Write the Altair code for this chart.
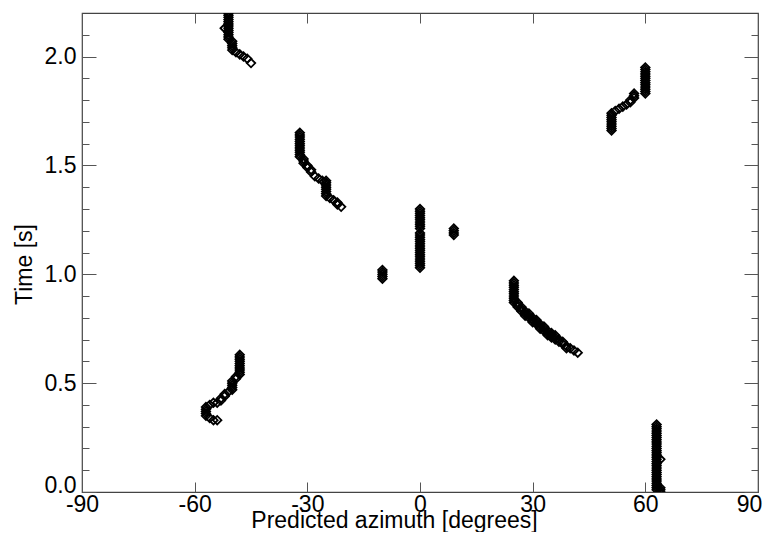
import altair as alt
import pandas as pd

# Runs of constant predicted azimuth (degrees) over frames (time in s)
run_az = [
    # bottom right
    64, 63, 64, 63,
    # lower left
    -55, -54, -56, -57, -56, -55, -54, -53, -52, -51, -50, -49, -48,
    # middle right curve
    26, 27, 28, 29, 30, 31, 32, 33, 34, 35, 36, 37, 38, 39, 40, 41, 42, 25,
    # centre
    -10, 0, 0, 9,
    # -30 cluster
    -32, -31, -30, -29, -28, -27, -26, -25, -24, -23, -22, -21,
    # upper right
    51, 52, 53, 54, 55, 56, 57, 60,
    # top left
    -45, -46, -47, -48, -49, -50, -51, -52,
]
run_t0 = [
    0.00, 0.01, 0.15, 0.15,
    0.33, 0.33, 0.34, 0.35, 0.40, 0.41, 0.41, 0.42, 0.44, 0.46, 0.47, 0.52, 0.54,
    0.85, 0.83, 0.81, 0.80, 0.78, 0.77, 0.75, 0.74, 0.72, 0.71, 0.70, 0.69, 0.68, 0.66, 0.66, 0.65, 0.64, 0.87,
    0.98, 1.03, 1.21, 1.18,
    1.54, 1.51, 1.49, 1.47, 1.45, 1.44, 1.43, 1.36, 1.35, 1.34, 1.32, 1.31,
    1.66, 1.75, 1.76, 1.77, 1.78, 1.79, 1.81, 1.83,
    1.97, 1.99, 2.00, 2.01, 2.02, 2.03, 2.08, 2.13,
]
run_t1 = [
    0.02, 0.14, 0.15, 0.31,
    0.33, 0.33, 0.34, 0.39, 0.40, 0.41, 0.41, 0.43, 0.45, 0.46, 0.51, 0.53, 0.63,
    0.87, 0.85, 0.83, 0.82, 0.80, 0.79, 0.77, 0.76, 0.74, 0.73, 0.72, 0.70, 0.69, 0.67, 0.66, 0.65, 0.64, 0.97,
    1.02, 1.19, 1.30, 1.21,
    1.65, 1.53, 1.50, 1.48, 1.45, 1.44, 1.43, 1.43, 1.35, 1.34, 1.33, 1.31,
    1.74, 1.75, 1.76, 1.77, 1.78, 1.80, 1.83, 1.95,
    1.97, 1.99, 2.00, 2.01, 2.02, 2.07, 2.20, 2.13,
]
FRAME = 0.01

x_ticks = [-90, -60, -30, 0, 30, 60, 90]
y_major = [0.0, 0.5, 1.0, 1.5, 2.0]
y_minor = [0.1, 0.2, 0.3, 0.4, 0.6, 0.7, 0.8, 0.9, 1.1, 1.2, 1.3, 1.4,
           1.6, 1.7, 1.8, 1.9, 2.1]

rows = []
for a, t0, t1 in zip(run_az, run_t0, run_t1):
    n = int(round((t1 - t0) / FRAME)) + 1
    for k in range(n):
        rows.append({"az": a, "t": round(t0 + k * FRAME, 3)})
df = pd.DataFrame(rows)

FONT = "Liberation Sans"
FS = 23
TICKC = "#555555"

xs = alt.Scale(domain=[-90, 90], nice=False, zero=False)
ys = alt.Scale(domain=[0, 2.2], nice=False, zero=False)

x_bottom = alt.Axis(
    values=x_ticks, offset=-10, tickSize=10, tickColor=TICKC, domain=False, grid=False,
    labelFont=FONT, labelFontSize=FS, labelColor="black", labelPadding=1,
    labelFlush=False, labelExpr="datum.value + ''",
    labelOffset={"condition": {"test": "datum.value == 90", "value": -9}, "value": 0},
    title="Predicted azimuth [degrees]", titleFont=FONT, titleFontSize=FS,
    titleFontWeight="normal", titleColor="black", titleX=312, titleY=45,
    titleBaseline="alphabetic", titleAlign="center",
)
x_top = alt.Axis(orient="top", values=x_ticks, offset=-10, tickSize=10, tickColor=TICKC,
                 domain=False, grid=False, labels=False, title="")
y_left = alt.Axis(
    values=y_major, offset=-14, tickSize=14, tickColor=TICKC, domain=False, grid=False,
    labelFont=FONT, labelFontSize=FS, labelColor="black", labelPadding=6, format=".1f",
    labelFlush=False,
    labelBaseline={"condition": {"test": "datum.value == 0", "value": "alphabetic"}, "value": "middle"},
    title="Time [s]", titleFont=FONT, titleFontSize=FS, titleFontWeight="normal",
    titleColor="black", titleX=-65, titleY=251, titleAngle=270,
    titleBaseline="alphabetic", titleAlign="center",
)
y_left_minor = alt.Axis(orient="left", values=y_minor, offset=-7, tickSize=7, tickColor=TICKC,
                        domain=False, grid=False, labels=False, title="")
y_right = alt.Axis(orient="right", values=y_major, offset=-14, tickSize=14, tickColor=TICKC,
                   domain=False, grid=False, labels=False, title="")
y_right_minor = alt.Axis(orient="right", values=y_minor, offset=-7, tickSize=7, tickColor=TICKC,
                         domain=False, grid=False, labels=False, title="")

base = alt.Chart(df)

pts = base.mark_point(shape="diamond", filled=False, color="black", size=72,
                      strokeWidth=1.8, clip=True, opacity=1).encode(
    x=alt.X("az:Q", scale=xs, axis=x_bottom),
    y=alt.Y("t:Q", scale=ys, axis=y_left),
)
l2 = base.mark_point(opacity=0).encode(
    x=alt.X("az:Q", scale=xs, axis=x_top),
    y=alt.Y("t:Q", scale=ys, axis=y_left_minor),
)
l3 = base.mark_point(opacity=0).encode(
    x=alt.X("az:Q", scale=xs, axis=None),
    y=alt.Y("t:Q", scale=ys, axis=y_right),
)
l4 = base.mark_point(opacity=0).encode(
    x=alt.X("az:Q", scale=xs, axis=None),
    y=alt.Y("t:Q", scale=ys, axis=y_right_minor),
)

chart = alt.layer(l2, l3, l4, pts).resolve_axis(x="independent", y="independent").properties(
    width=676, height=479, autosize="none",
    padding={"left": 74, "top": 5, "right": 5, "bottom": 40},
    background="white",
).configure_view(stroke="#444444", strokeWidth=1.2)

chart.save("out.html", embed_options={"renderer": "svg", "actions": False})
